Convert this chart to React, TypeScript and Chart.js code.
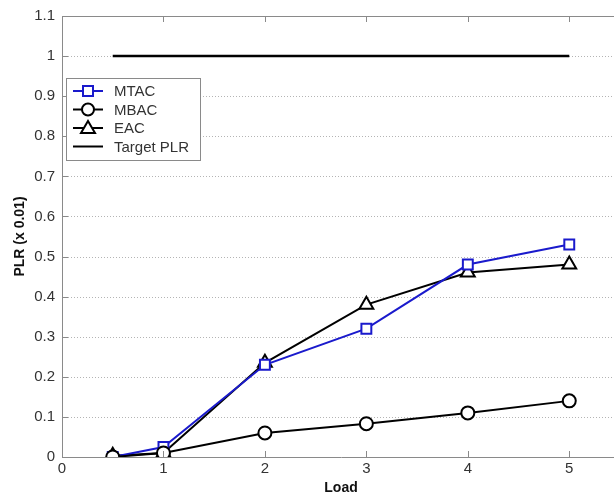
import React, { useEffect, useRef } from "react";
import { Chart, registerables } from "chart.js";
Chart.register(...registerables);

const loads = [0.5, 1, 2, 3, 4, 5];
const mtac = [0, 0.025, 0.23, 0.32, 0.48, 0.53];
const mbac = [0, 0.01, 0.06, 0.083, 0.11, 0.14];
const eac = [0.003, 0.01, 0.235, 0.38, 0.46, 0.48];
const targetX = [0.5, 5];
const targetY = [1, 1];
const xTicks = [0, 1, 2, 3, 4, 5];
const yTicks = [0, 0.1, 0.2, 0.3, 0.4, 0.5, 0.6, 0.7, 0.8, 0.9, 1, 1.1];
const seriesNames = ["MTAC", "MBAC", "EAC", "Target PLR"];
const xTitle = "Load";
const yTitle = "PLR (x 0.01)";

const BLUE = "#1a1acc";
const AXIS = "#8a8a8a";
const FONT = "'Liberation Sans', Arial, sans-serif";

function drawMarker(ctx: CanvasRenderingContext2D, style: string, x: number, y: number, color: string) {
  ctx.save();
  ctx.lineWidth = 2;
  ctx.strokeStyle = color;
  ctx.fillStyle = "#fff";
  ctx.beginPath();
  if (style === "rect") {
    ctx.rect(x - 5, y - 5, 10, 10);
  } else if (style === "circle") {
    ctx.arc(x, y, 6, 0, Math.PI * 2);
  } else if (style === "triangle") {
    ctx.moveTo(x, y - 7);
    ctx.lineTo(x + 7, y + 5);
    ctx.lineTo(x - 7, y + 5);
    ctx.closePath();
  }
  if (style !== "none") {
    ctx.fill();
    ctx.stroke();
  }
  ctx.restore();
}

const framePlugin = {
  id: "frame",
  beforeDatasetsDraw(chart: any) {
    const { ctx, chartArea } = chart;
    const ys = chart.scales.y;
    ctx.save();
    ctx.strokeStyle = "#b4b4b4";
    ctx.lineWidth = 1;
    ctx.setLineDash([1, 2]);
    ctx.beginPath();
    for (const t of yTicks) {
      if (t === 0) continue;
      const py = Math.round(ys.getPixelForValue(t)) + 0.5;
      ctx.moveTo(chartArea.left, py);
      ctx.lineTo(chartArea.right, py);
    }
    ctx.stroke();
    ctx.restore();
  },
  afterDraw(chart: any) {
    const { ctx, chartArea } = chart;
    const xs = chart.scales.x;
    const ys = chart.scales.y;
    ctx.save();
    ctx.strokeStyle = AXIS;
    ctx.lineWidth = 1;
    // top border
    ctx.beginPath();
    ctx.moveTo(chartArea.left, chartArea.top + 0.5);
    ctx.lineTo(chartArea.right, chartArea.top + 0.5);
    ctx.stroke();
    // inner ticks
    ctx.beginPath();
    for (const t of xTicks) {
      const px = Math.round(xs.getPixelForValue(t)) + 0.5;
      ctx.moveTo(px, chartArea.bottom);
      ctx.lineTo(px, chartArea.bottom - 6);
      ctx.moveTo(px, chartArea.top);
      ctx.lineTo(px, chartArea.top + 6);
    }
    for (const t of yTicks) {
      const py = Math.round(ys.getPixelForValue(t)) + 0.5;
      ctx.moveTo(chartArea.left, py);
      ctx.lineTo(chartArea.left + 6, py);
    }
    ctx.stroke();

    // legend
    const lx = 66, ly = 78, lw = 134, lh = 82;
    ctx.fillStyle = "#fff";
    ctx.fillRect(lx, ly, lw, lh);
    ctx.strokeStyle = AXIS;
    ctx.strokeRect(lx + 0.5, ly + 0.5, lw, lh);
    const styles = ["rect", "circle", "triangle", "none"];
    const colors = [BLUE, "#000", "#000", "#000"];
    ctx.font = `15px ${FONT}`;
    ctx.textBaseline = "middle";
    for (let i = 0; i < 4; i++) {
      const cy = ly + 13 + i * 18.5;
      ctx.strokeStyle = colors[i];
      ctx.lineWidth = 2;
      ctx.beginPath();
      ctx.moveTo(73, cy);
      ctx.lineTo(103, cy);
      ctx.stroke();
      drawMarker(ctx, styles[i], 88, cy, colors[i]);
      ctx.fillStyle = "#333";
      ctx.fillText(seriesNames[i], 114, cy + 1);
    }
    ctx.restore();
  },
};

export default function App() {
  const ref = useRef<HTMLCanvasElement | null>(null);
  useEffect(() => {
    if (!ref.current) return;
    const mk = (ys: number[]) => loads.map((x, i) => ({ x, y: ys[i] }));
    const chart = new Chart(ref.current, {
      type: "line",
      data: {
        datasets: [
          {
            label: seriesNames[3],
            data: targetX.map((x, i) => ({ x, y: targetY[i] })),
            borderColor: "#000",
            borderWidth: 2.5,
            pointRadius: 0,
          },
          {
            label: seriesNames[1],
            data: mk(mbac),
            borderColor: "#000",
            borderWidth: 2,
            pointStyle: "circle",
            pointRadius: 6.5,
            pointBorderWidth: 2,
            pointBackgroundColor: "#fff",
            pointBorderColor: "#000",
          },
          {
            label: seriesNames[0],
            data: mk(mtac),
            borderColor: BLUE,
            borderWidth: 2,
            pointStyle: "rect",
            pointRadius: 7,
            pointBorderWidth: 2,
            pointBackgroundColor: "#fff",
            pointBorderColor: BLUE,
          },
          {
            label: seriesNames[2],
            data: mk(eac),
            borderColor: "#000",
            borderWidth: 2,
            pointStyle: "triangle",
            pointRadius: 8,
            pointBorderWidth: 2,
            pointBackgroundColor: "#fff",
            pointBorderColor: "#000",
          },
        ],
      },
      options: {
        animation: false,
        responsive: false,
        maintainAspectRatio: false,
        layout: { padding: { top: 16, right: 10, left: 0, bottom: 0 } },
        plugins: { legend: { display: false }, tooltip: { enabled: false } },
        scales: {
          x: {
            type: "linear",
            min: 0,
            max: 5.5,
            afterBuildTicks: (s: any) => {
              s.ticks = xTicks.map((v) => ({ value: v }));
            },
            afterFit: (s: any) => {
              s.height = 40;
            },
            grid: { display: false, drawTicks: false },
            border: { color: AXIS, width: 1 },
            ticks: {
              color: "#333",
              font: { family: FONT, size: 15 },
              padding: 3,
              maxRotation: 0,
            },
            title: {
              display: true,
              text: xTitle,
              color: "#111",
              font: { family: FONT, size: 14, weight: "bold" },
              padding: { top: 0, bottom: 0 },
            },
          },
          y: {
            type: "linear",
            min: 0,
            max: 1.1,
            afterBuildTicks: (s: any) => {
              s.ticks = yTicks.map((v) => ({ value: v }));
            },
            afterFit: (s: any) => {
              s.width = 62;
            },
            grid: { display: false, drawTicks: false },
            border: { color: AXIS, width: 1 },
            ticks: {
              color: "#333",
              font: { family: FONT, size: 15 },
              padding: 7,
              callback: (v: any) => String(Math.round(Number(v) * 10) / 10),
            },
            title: {
              display: true,
              text: yTitle,
              color: "#111",
              font: { family: FONT, size: 14, weight: "bold" },
              padding: { top: 12, bottom: 0 },
            },
          },
        },
      },
      plugins: [framePlugin],
    } as any);
    return () => chart.destroy();
  }, []);
  return (
    <div style={{ position: "absolute", left: 0, top: 0, width: 614, height: 497, overflow: "hidden", background: "#fff" }}>
      <canvas ref={ref} width={630} height={497} style={{ width: 630, height: 497, display: "block" }} />
    </div>
  );
}
